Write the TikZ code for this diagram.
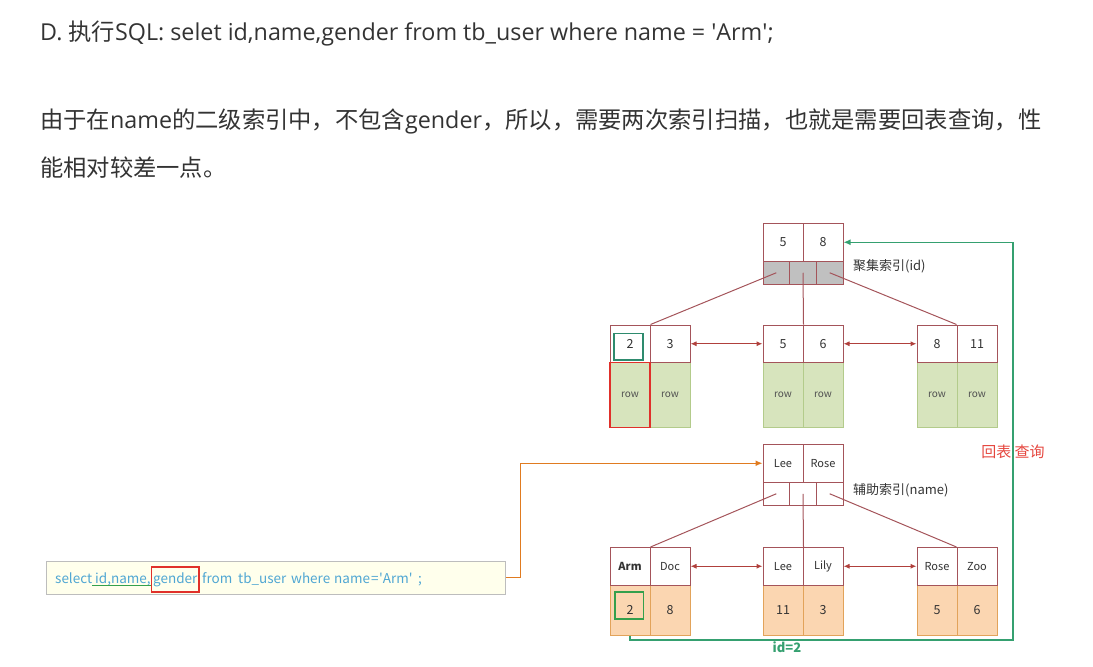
\documentclass[tikz,border=0pt]{standalone}
\usepackage{fontspec}
\setmainfont{Noto Sans CJK SC}
\newfontfamily\lat{Open Sans}
\usepackage{xcolor}
\usetikzlibrary{arrows.meta}
\definecolor{txt}{HTML}{333333}
\definecolor{cellred}{HTML}{A4545A}
\definecolor{linkred}{HTML}{B0403C}
\definecolor{ptrgray}{HTML}{C0C0C0}
\definecolor{rowgreen}{HTML}{D7E4BD}
\definecolor{rowgreenb}{HTML}{B3CB8B}
\definecolor{rowora}{HTML}{FBD6B1}
\definecolor{rillora}{HTML}{E2A35A}
\definecolor{backgreen}{HTML}{35A070}
\definecolor{sqlblue}{HTML}{4FA6D3}
\definecolor{sqlfill}{HTML}{FFFFEC}
\definecolor{sqlgray}{HTML}{BDBDBD}
\definecolor{hired}{HTML}{E0302A}
\definecolor{hiteal}{HTML}{2E8B6E}
\definecolor{higreen}{HTML}{34A04C}
\definecolor{wayora}{HTML}{E07B20}
\definecolor{labred}{HTML}{E5463E}
\newcommand{\leaf}[6]{%
    \foreach \k/\v[count=\n] in {#6} {
        \pgfmathsetmacro{\x}{#2+40*\n-20}
        \node[#5,minimum height=#4] (#1v\n) at (\x,#3+37.5+#4/2) {\v};
        \node[keycell] (#1k\n) at (\x,#3+18.75) {\k};
    }%
}
\newcommand{\inode}[5]{%
    \foreach \k[count=\n] in {#5} {
        \node[keycell] (#1k\n) at (#2+40*\n-20,#3+18.75) {\k};
    }
    \foreach \n in {1,2,3} {
        \node[ptrcell,fill=#4] (#1p\n) at (#2+80/3*\n-40/3,#3+37.5+11.75) {};
    }%
}
\begin{document}
\begin{tikzpicture}[x=1pt,y=-1pt,
    keycell/.style={draw=cellred,fill=white,line width=1pt,minimum width=40,
        minimum height=37.5,inner sep=0pt,text=txt,font=\fontsize{12.5}{14}\selectfont},
    ptrcell/.style={draw=cellred,line width=1pt,minimum width=80/3,
        minimum height=23.5,inner sep=0pt},
    greenrow/.style={draw=rowgreenb,fill=rowgreen,line width=1pt,minimum width=40,
        inner sep=0pt,text=txt!85,font=\fontsize{10}{12}\selectfont},
    orangerow/.style={draw=rillora,fill=rowora,line width=1pt,minimum width=40,
        inner sep=0pt,text=txt,font=\fontsize{12.5}{14}\selectfont},
    ptrlink/.style={draw=cellred,line width=1pt},
    leaflink/.style={draw=linkred,line width=1pt,
        {Latex[length=6pt,width=5pt]}-{Latex[length=6pt,width=5pt]}},
    hlbox/.style={draw=#1,line width=1.7pt,inner sep=0pt},
    note/.style={anchor=west,inner sep=0pt,text=txt,font=\fontsize{13}{15}\selectfont},
    sqlword/.style={anchor=base west,inner sep=0pt,text=sqlblue,font=\fontsize{13.5}{16}\selectfont},
    para/.style={anchor=base west,inner sep=0pt,text=txt,font=\fontsize{23.3}{28}\selectfont}]
    \useasboundingbox (0,0) rectangle (1093,667);
    \node[para] (title) at (40,40) {{\lat D. }执行{\lat SQL: selet id,name,gender from tb\_user where name = \textquotesingle Arm\textquotesingle;}};
    \node[para] (line1) at (40,128) {由于在{\lat name}的二级索引中，不包含{\lat gender}，所以，需要两次索引扫描，也就是需要回表查询，性};
    \node[para] (line2) at (40,176.5) {能相对较差一点。};
    \inode{ci}{763}{223.5}{ptrgray}{5,8}
    \leaf{cl}{610}{325}{65}{greenrow}{2/row,3/row}
    \leaf{cm}{763}{325}{65}{greenrow}{5/row,6/row}
    \leaf{cr}{917}{325}{65}{greenrow}{8/row,11/row}
    \begin{scope}[keycell/.append style={font=\fontsize{11}{13}\selectfont}]
        \inode{ai}{763}{444.5}{white}{Lee,Rose}
        \leaf{al}{610}{547.5}{50}{orangerow}{\textbf{Arm}/2,Doc/8}
        \leaf{am}{763}{547.5}{50}{orangerow}{Lee/11,Lily/3}
        \leaf{ar}{917}{547.5}{50}{orangerow}{Rose/5,Zoo/6}
    \end{scope}
    \foreach \tr in {c,a} {
        \draw[ptrlink] (\tr ip1.center) -- (\tr lk1.north east);
        \draw[ptrlink] (\tr ip2.center) -- (\tr mk1.north east);
        \draw[ptrlink] (\tr ip3.center) -- (\tr rk2.north west);
        \draw[leaflink] (\tr lk2.east) -- (\tr mk1.west);
        \draw[leaflink] (\tr mk2.east) -- (\tr rk1.west);
    }
    \node[note] (cilabel) at (853,266) {聚集索引(id)};
    \node[note] (ailabel) at (853,490) {辅助索引(name)};
    \node[hlbox=hired,minimum width=40,minimum height=65] (rowbox) at (clv1) {};
    \node[hlbox=hiteal,minimum width=29,minimum height=26.5] (keybox) at ([shift={(-1.3,3)}]clk1.center) {};
    \node[hlbox=higreen,minimum width=28.5,minimum height=27] (valbox) at ([shift={(-0.8,-4.2)}]alv1.center) {};
    \node[draw=sqlgray,fill=sqlfill,line width=0.8pt,minimum width=459,minimum height=33,inner sep=0pt] (sqlbox) at (276.3,577.5) {};
    \foreach \x/\w[count=\n] in {55/select,95/{id,name,},153/gender,202/from,238/tb\_user,291/where,334/name,371/=,379/\textquotesingle Arm\textquotesingle,418/;} {
        \node[sqlword] (sqlw\n) at (\x,583) {\w};
    }
    \draw[higreen,line width=1.2pt] ([xshift=-3]sqlw2.south west) -- (sqlw2.south east);
    \node[hlbox=hired,minimum width=47.5,minimum height=25] (genbox) at (sqlw3.center) {};
    \draw[wayora,line width=1.2pt,-{Latex[length=7pt,width=6pt]}] (sqlbox.east) -- ++(14,0) |- (aik1.west);
    % 回表
    \coordinate (turn) at (1013,640);
    \draw[backgreen,line width=1.2pt,-{Latex[length=7pt,width=6pt]}] (alv1.south) |- (turn) |- (cik2.east);
    \node[font=\bfseries\fontsize{13}{15}\selectfont,text=backgreen] (idtwo) at (787,647) {id=2};
    \node[font=\fontsize{15}{18}\selectfont,text=labred] (backlabel) at (1013,452) {回表 查询};
\end{tikzpicture}
\end{document}
